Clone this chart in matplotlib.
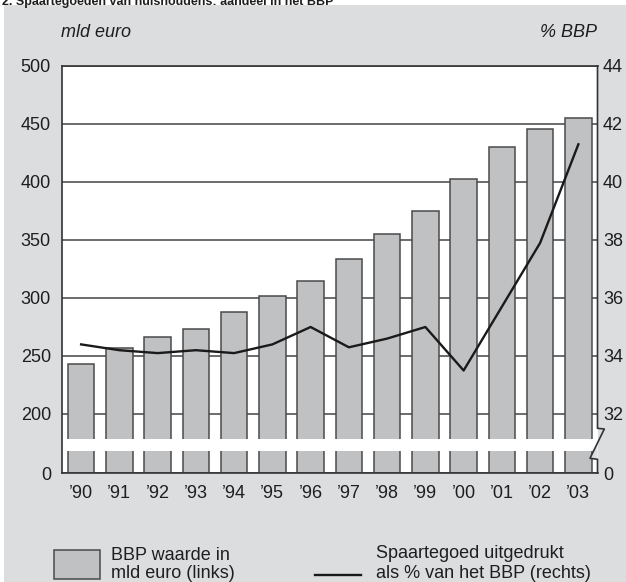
import numpy as np
import matplotlib
matplotlib.use("Agg")
import matplotlib.pyplot as plt
from matplotlib.patches import Rectangle, Polygon
from matplotlib.lines import Line2D

plt.rcParams['font.family'] = ['Liberation Sans', 'DejaVu Sans']

# ---- data ----
years = ["’90", "’91", "’92", "’93", "’94", "’95", "’96", "’97", "’98", "’99", "’00", "’01", "’02", "’03"]
bbp = [243, 257, 266, 273, 288, 302, 315, 334, 355, 375, 403, 430, 446, 455]
pct = [34.4, 34.2, 34.1, 34.2, 34.1, 34.4, 35.0, 34.3, 34.6, 35.0, 33.5, 35.7, 37.9, 41.3]
left_ticks = [0, 200, 250, 300, 350, 400, 450, 500]
right_ticks = [0, 32, 34, 36, 38, 40, 42, 44]

title = "2. Spaartegoeden van huishoudens: aandeel in het BBP"
left_unit = "mld euro"
right_unit = "% BBP"
leg_bar = ["BBP waarde in", "mld euro (links)"]
leg_line = ["Spaartegoed uitgedrukt", "als % van het BBP (rechts)"]

BG = "#dcdddf"
BAR = "#c0c1c3"
EDGE = "#4a4a4a"
TXT = "#1e1e1e"

W, H = 626, 582
fig = plt.figure(figsize=(W / 100, H / 100), dpi=100, facecolor="white")

def fx(px):
    return px / W

def fy(py):
    return 1 - py / H

# grey panel
fig.patches.append(Rectangle((fx(4), 0), 1 - fx(4), fy(5), transform=fig.transFigure,
                             facecolor=BG, edgecolor="none", zorder=-5))

# title (partially cut at top)
fig.text(fx(2), fy(4.5), title, fontsize=9, fontweight="bold", color=TXT,
         ha="left", va="baseline", zorder=5)

L, R, T, B = 62, 597.5, 66, 473
ax = fig.add_axes([fx(L), fy(B), fx(R) - fx(L), fy(T) - fy(B)])
ax.set_zorder(1)

# broken scales
def fwd_left(v):
    v = np.asarray(v, dtype=float)
    return np.where(v < 200, v * 59 / 200, 59 + (v - 200) * 58 / 50)

def inv_left(d):
    d = np.asarray(d, dtype=float)
    return np.where(d < 59, d * 200 / 59, 200 + (d - 59) * 50 / 58)

def fwd_right(r):
    r = np.asarray(r, dtype=float)
    return np.where(r < 32, r * 59 / 32, 59 + (r - 32) * 29)

def inv_right(d):
    d = np.asarray(d, dtype=float)
    return np.where(d < 59, d * 32 / 59, 32 + (d - 59) / 29)

ax.set_yscale("function", functions=(fwd_left, inv_left))
ax.set_ylim(0, 500)
x = np.arange(len(years))
ax.bar(x, bbp, width=0.69, color=BAR, edgecolor=EDGE, linewidth=1.1, zorder=2)
ax.set_xlim(-0.5, len(years) - 0.5)
ax.set_yticks(left_ticks)
ax.set_yticklabels([str(t) for t in left_ticks])
ax.set_xticks(x)
ax.set_xticklabels(years)
ax.tick_params(axis="both", length=0, labelsize=13, colors=TXT)
ax.tick_params(axis="y", pad=8)
ax.tick_params(axis="x", pad=9)
ax.minorticks_off()
ax.set_axisbelow(True)
ax.yaxis.grid(True, color="#444444", linewidth=1.1)
for s in ["left", "top", "bottom"]:
    ax.spines[s].set_color("#333333")
    ax.spines[s].set_linewidth(1.2)
ax.spines["right"].set_visible(False)

def ax_x(px):
    return (px - L) / (R - L)

def ax_y(py):
    return (B - py) / (B - T)

# white break band
d_top = (ax_x(604.3), ax_y(429))
d_bot = (ax_x(590), ax_y(458.3))
def diag_x(ay):
    return d_bot[0] + (ay - d_bot[1]) / (d_top[1] - d_bot[1]) * (d_top[0] - d_bot[0])
yb0, yb1 = ax_y(451), ax_y(439)
band = Polygon([(0.002, yb0), (0.002, yb1), (min(diag_x(yb1), 1.0), yb1), (diag_x(yb0), yb0)],
               closed=True, transform=ax.transAxes, facecolor="white", edgecolor="none",
               zorder=2.3)
ax.add_patch(band)
ay_cross = d_bot[1] + (1.0 - d_bot[0]) / (d_top[0] - d_bot[0]) * (d_top[1] - d_bot[1])
tri = Polygon([d_bot, (1.0, ay_cross), (1.0, ax_y(459.3))], closed=True,
              transform=ax.transAxes, facecolor=BG, edgecolor="none", zorder=2.3, clip_on=False)
ax.add_patch(tri)

# custom right spine with zigzag
zz = Line2D([1.0, 1.0, d_top[0], d_bot[0], 1.0, 1.0],
            [1.0, ax_y(428.3), d_top[1], d_bot[1], ax_y(459.3), 0.0],
            transform=ax.transAxes, color="#333333", linewidth=1.2, clip_on=False, zorder=3)
ax.add_line(zz)

# right axis
ax2 = ax.twinx()
ax2.set_zorder(2)
ax2.set_yscale("function", functions=(fwd_right, inv_right))
ax2.set_ylim(0, 44)
ax2.plot(x, pct, color="#1a1a1a", linewidth=1.7, zorder=4)
ax2.set_yticks(right_ticks)
ax2.set_yticklabels([str(t) for t in right_ticks])
ax2.tick_params(axis="y", length=0, labelsize=13, colors=TXT, pad=4)
ax2.minorticks_off()
ax2.patch.set_visible(False)
for s in ax2.spines.values():
    s.set_visible(False)

# unit labels
fig.text(fx(61), fy(37), left_unit, fontsize=13, style="italic", color=TXT, ha="left", va="baseline")
fig.text(fx(597), fy(37), right_unit, fontsize=13, style="italic", color=TXT, ha="right", va="baseline")

# legend
fig.patches.append(Rectangle((fx(54), fy(579)), fx(100) - fx(54), fy(550) - fy(579),
                             transform=fig.transFigure, facecolor=BAR, edgecolor=EDGE,
                             linewidth=1.1, zorder=2))
fig.text(fx(111), fy(560), leg_bar[0], fontsize=13, color=TXT, ha="left", va="baseline")
fig.text(fx(111), fy(578), leg_bar[1], fontsize=13, color=TXT, ha="left", va="baseline")
fig.lines.append(Line2D([fx(315), fx(361)], [fy(575), fy(575)], transform=fig.transFigure,
                        color="#1a1a1a", linewidth=1.7))
fig.text(fx(376), fy(558), leg_line[0], fontsize=13, color=TXT, ha="left", va="baseline")
fig.text(fx(376), fy(578), leg_line[1], fontsize=13, color=TXT, ha="left", va="baseline")

fig.savefig("out.png", dpi=100, facecolor="white")
